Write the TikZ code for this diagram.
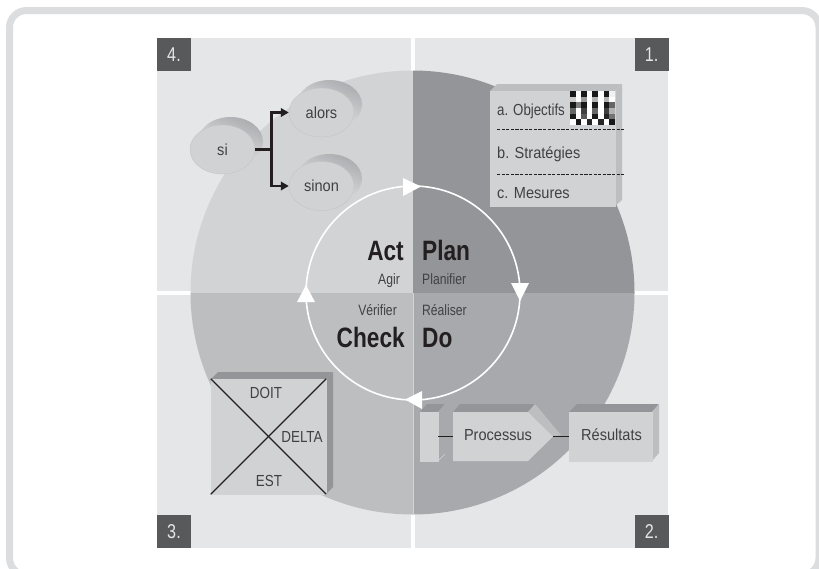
\documentclass[tikz,border=0pt]{standalone}
\usepackage{fontspec}
\usetikzlibrary{shapes.geometric,arrows.meta}
\setmainfont{Liberation Sans}
\newfontfamily\lblf[FakeStretch=.91]{Liberation Sans}
\newfontfamily\objf[FakeStretch=.83]{Liberation Sans}
\newfontfamily\capf[FakeStretch=.84]{Liberation Sans}
\newfontfamily\smlf[FakeStretch=.81]{Liberation Sans}
\newfontfamily\bigf[FakeStretch=.81]{Liberation Sans Bold}
\definecolor{bgq}{HTML}{E5E6E8}
\definecolor{frm}{HTML}{DCDDDE}
\definecolor{qtl}{HTML}{D2D3D5}
\definecolor{qtr}{HTML}{939598}
\definecolor{qbl}{HTML}{BCBEC0}
\definecolor{qbr}{HTML}{A7A9AC}
\definecolor{face}{HTML}{D1D2D4}
\definecolor{txt}{HTML}{414042}
\definecolor{numbox}{HTML}{58595B}
\definecolor{ink}{HTML}{231F20}
\definecolor{ovd}{HTML}{ABADB0}
\definecolor{ovm}{HTML}{CFD0D2}
\definecolor{ovl}{HTML}{EDEEEF}
\tikzset{
  x=1pt,y=-1pt,
  lbl/.style={text=txt,inner sep=0pt,font=\lblf\fontsize{16}{18}\selectfont},
  objlbl/.style={lbl,font=\objf\fontsize{16}{18}\selectfont},
  caplbl/.style={lbl,font=\capf\fontsize{16}{18}\selectfont},
  sml/.style={text=txt,inner sep=0pt,font=\smlf\fontsize{15}{17}\selectfont},
  big/.style={text=ink,inner sep=0pt,font=\bigf\fontsize{28}{30}\selectfont},
  numb/.style={fill=numbox,text=bgq,minimum width=34,minimum height=33.5,inner sep=0pt,font=\smlf\fontsize{20}{22}\selectfont},
  oval/.style={ellipse,fill=face,draw=qbl!70!face,line width=.4,minimum width=65,minimum height=49,inner sep=0pt,text=txt,font=\lblf\fontsize{16}{18}\selectfont},
  ovalback/.style={left color=ovd,middle color=ovm,right color=ovl,shading angle=-25},
  faceb/.style={fill=face,draw=qtl,line width=.5,inner sep=0pt},
  topdark/.style={fill=qtr},
  sidelight/.style={fill=qbl},
  link/.style={draw=ink,line width=1.5},
  elbow/.style={draw=ink,line width=2.4,-{Triangle[length=8,width=8.5]}},
  cross/.style={draw=ink,line width=1.1},
  dashln/.style={draw=ink,line width=1,dash pattern=on 3.2 off 1.4},
  tip/.style={fill=white},
}
\begin{document}
\begin{tikzpicture}
\clip (0,0) rectangle (819,568);
\fill[white] (0,0) rectangle (819,568);
% outer frame
\draw[frm,line width=7,rounded corners=17] (9.5,10.5) rectangle (819,575);
% quadrants
\fill[bgq] (157,38) rectangle (410.8,291);
\fill[bgq] (415,38) rectangle (668,291);
\fill[bgq] (157,295) rectangle (410.8,548);
\fill[bgq] (415,295) rectangle (668,548);
% disc
\begin{scope}\clip (100,0) rectangle (413,293); \fill[qtl] (412.5,292.5) circle[radius=222]; \end{scope}
\begin{scope}\clip (413,0) rectangle (719,293); \fill[qtr] (412.5,292.5) circle[radius=222]; \end{scope}
\begin{scope}\clip (100,293) rectangle (413,568); \fill[qbl] (412.5,292.5) circle[radius=222]; \end{scope}
\begin{scope}\clip (413,293) rectangle (719,568); \fill[qbr] (412.5,292.5) circle[radius=222]; \end{scope}
\draw[qtl,line width=.6] (413,293) -- (413,514.5);
% number boxes
\node[numb] (n4) at (174,54.7) {4.};
\node[numb] (n1) at (651.5,54.7) {1.};
\node[numb] (n2) at (651.5,531.5) {2.};
\node[numb] (n3) at (174,531.5) {3.};
% cycle ring
\draw[white,line width=1.6] (413,293) circle[radius=107];
\fill[tip] (403,178) -- (421,186.5) -- (403,196) -- cycle;
\fill[tip] (511,283) -- (529,283) -- (520,301) -- cycle;
\fill[tip] (422,391) -- (405,399.5) -- (422,409) -- cycle;
\fill[tip] (297,302) -- (306,285) -- (315,302) -- cycle;
% cycle texts
\node[big,anchor=base east] (act) at (404,260) {Act};
\node[big,anchor=base west] (plan) at (422,260) {Plan};
\node[big,anchor=base east] (check) at (405,347) {Check};
\node[big,anchor=base west] (do) at (422,347) {Do};
\node[sml,anchor=base east] (agir) at (400,284) {Agir};
\node[sml,anchor=base west] (planif) at (422,284) {Planifier};
\node[sml,anchor=base east] (verif) at (397,315) {Vérifier};
\node[sml,anchor=base west] (realis) at (422,315) {Réaliser};
% ovals
\shade[ovalback] (230.5,141.5) ellipse[x radius=32.5,y radius=24.5];
\shade[ovalback] (329.5,104.5) ellipse[x radius=32.5,y radius=24.5];
\shade[ovalback] (329.5,178.5) ellipse[x radius=32.5,y radius=24.5];
\node[oval] (si) at (222.5,149.5) {si};
\node[oval] (alors) at (321.5,112.5) {alors};
\node[oval] (sinon) at (321.5,186) {sinon};
\coordinate (junc) at (271.5,149.5);
\draw[draw=ink,line width=2.4] (si.east) -- (junc);
\draw[elbow] (junc) |- (alors.west);
\draw[elbow] (junc) |- (sinon.west);
% box 1 objectives
\fill[sidelight] (490,91) -- (497,84) -- (622,84) -- (615,91) -- cycle;
\fill[sidelight] (615,91) -- (622,84) -- (622,200) -- (615,206) -- cycle;
\node[faceb,minimum width=125,minimum height=115] (obj) at (552.5,148.5) {};
% checker
\foreach \rowi/\vals in {
 0/{90,0,90,0,90,0,90,5},
 1/{20,0,40,0,30,0,30,0},
 2/{90,50,90,0,90,0,90,60},
 3/{60,0,75,0,60,0,75,30},
 4/{90,0,65,0,90,0,85,55},
 5/{0,90,0,85,0,85,0,90}}{
  \foreach \v [count=\c] in \vals {
    \fill[black!\v!white] ({570+(\c-1)*5.6},{91+\rowi*5.67}) rectangle ++(5.6,5.67);
  }
}
\node[objlbl,anchor=base west] (a) at (497,115) {a. Objectifs};
\node[lbl,anchor=base west] (b) at (497,158) {b. Stratégies};
\node[lbl,anchor=base west] (c) at (497,198) {c. Mesures};
\coordinate (d1l) at (497,129); \coordinate (d1r) at (624,129);
\coordinate (d2l) at (497,174); \coordinate (d2r) at (624,174);
\draw[dashln] (d1l) -- (d1r);
\draw[dashln] (d2l) -- (d2r);
% box 3 delta
\fill[topdark] (211,379) -- (218,372) -- (333,372) -- (326,379) -- cycle;
\fill[topdark] (326,379) -- (333,372) -- (333,487) -- (326,494) -- cycle;
\node[faceb,minimum width=115,minimum height=115] (delta) at (268.5,436.5) {};
\draw[cross] (delta.north west) -- (delta.south east);
\draw[cross] (delta.north east) -- (delta.south west);
\node[caplbl] (doit) at (266,393) {DOIT};
\node[caplbl,fill=none] (dl) at (302,437) {DELTA};
\node[caplbl] (est) at (269,481) {EST};
% process chain
\fill[topdark] (420,412) -- (427,404) -- (445,404) -- (438,412) -- cycle;
\fill[qbr] (438,412) -- (445,404) -- (445,454) -- (438,461) -- cycle;
\draw[qtl,line width=.6] (438,461) -- (445,454);
\node[faceb,minimum width=18,minimum height=49] (small) at (429,436.5) {};
% pentagon
\fill[topdark] (453,412) -- (460,404) -- (535,404) -- (528,412) -- cycle;
\fill[qbl] (528,412) -- (535,404) -- (561,435) -- (553,436.5) -- cycle;
\fill[face] (453,412) -- (528,412) -- (553,436.5) -- (528,461) -- (453,461) -- cycle;
\coordinate (procW) at (453,436.5);
\coordinate (procE) at (553,436.5);
\node[lbl,anchor=base] (proc) at (498,440) {Processus};
% results box
\fill[topdark] (569,412) -- (577,404) -- (659,404) -- (652,412) -- cycle;
\fill[qbl] (652,412) -- (659,404) -- (659,453) -- (652,461) -- cycle;
\node[faceb,minimum width=83,minimum height=49] (res) at (610.5,436.5) {};
\node[lbl,anchor=base] (restxt) at (611.5,440) {Résultats};
\draw[link] (small.east) -- (procW);
\draw[link] (procE) -- (res.west);
\end{tikzpicture}
\end{document}
